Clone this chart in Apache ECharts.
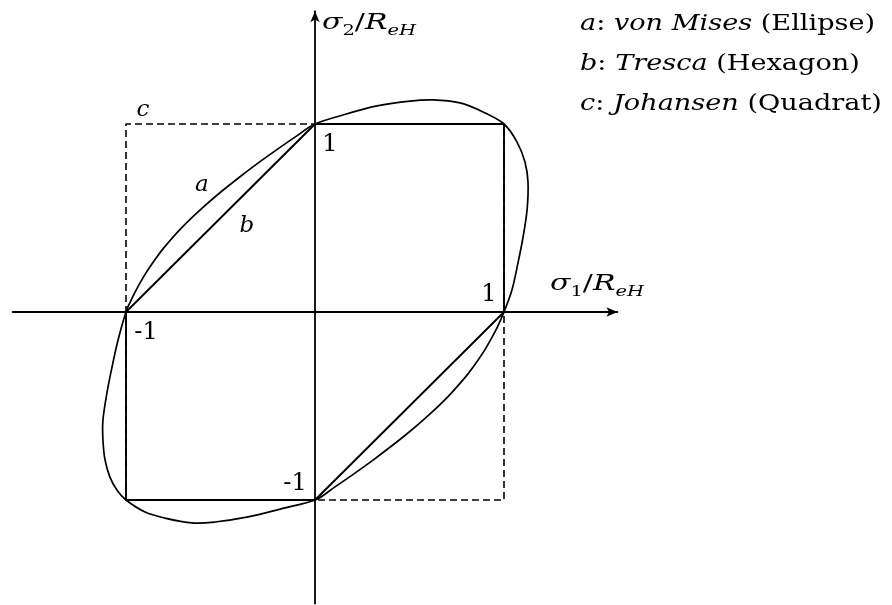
<!DOCTYPE html>
<html>
<head>
<meta charset="utf-8">
<script src="https://cdn.jsdelivr.net/npm/echarts@6/dist/echarts.min.js"></script>
<style>
  html, body { margin: 0; padding: 0; background: #fff; }
  #chart { width: 892px; height: 605px; }
</style>
</head>
<body>
<div id="chart"></div>
<script>
// Normalised principal stresses sigma1/ReH (x) and sigma2/ReH (y)

// a: von Mises yield locus, closed, counter-clockwise from (1, 0)
const vonMises = [
  [1.000, 0.000], [1.042, 0.117], [1.074, 0.261], [1.101, 0.399],
  [1.122, 0.543], [1.127, 0.690], [1.111, 0.798], [1.069, 0.904],
  [1.000, 1.000], [0.889, 1.064], [0.767, 1.112], [0.624, 1.128],
  [0.503, 1.122], [0.328, 1.096], [0.148, 1.048], [0.000, 1.000],
  [-0.100, 0.934], [-0.200, 0.865], [-0.300, 0.793], [-0.400, 0.717],
  [-0.500, 0.637], [-0.600, 0.550], [-0.700, 0.454], [-0.800, 0.341],
  [-0.850, 0.274], [-0.900, 0.199], [-0.950, 0.110], [-0.975, 0.058],
  [-1.000, 0.000], [-1.042, -0.149], [-1.074, -0.293], [-1.101, -0.431],
  [-1.122, -0.574], [-1.122, -0.681], [-1.111, -0.787], [-1.085, -0.878],
  [-1.048, -0.947], [-1.000, -1.000], [-0.899, -1.064], [-0.794, -1.096],
  [-0.651, -1.122], [-0.529, -1.117], [-0.354, -1.090], [-0.175, -1.046],
  [0.000, -1.000], [0.100, -0.934], [0.200, -0.865], [0.300, -0.793],
  [0.400, -0.717], [0.500, -0.637], [0.600, -0.550], [0.700, -0.454],
  [0.800, -0.341], [0.850, -0.274], [0.900, -0.199], [0.950, -0.110],
  [0.975, -0.058]
];

// b: Tresca hexagon
const tresca = [[0, 1], [1, 1], [1, 0], [0, -1], [-1, -1], [-1, 0], [0, 1]];

// c: Johansen square
const johansen = [[-1, -1], [-1, 1], [1, 1], [1, -1], [-1, -1]];

// Tick values marked on both axes
const tickValues = [1, -1];
const tickTexts = ['1', '-1'];

// Curve letters and where they sit
const curveLetters = ['a', 'b', 'c'];
const curveLetterAt = [[-0.598, 0.676], [-0.360, 0.457], [-0.910, 1.074]];

// Legend lines
const legendLetters = ['a', 'b', 'c'];
const legendNames = ['von Mises', 'Tresca', 'Johansen'];
const legendShapes = ['Ellipse', 'Hexagon', 'Quadrat'];

const xRange = [-1.6, 1.6];
const yRange = [-1.55, 1.6];

// Plot geometry: origin in pixels and pixels per unit
const W = 892, H = 605;
const origin = [315, 312];
const unit = [189, 188];

const serif = '"DejaVu Serif", "Liberation Serif", serif';
const ink = '#000';

const chart = echarts.init(document.getElementById('chart'), null, { renderer: 'canvas' });

const gridLeft = origin[0] + xRange[0] * unit[0];
const gridRight = W - (origin[0] + xRange[1] * unit[0]);
const gridTop = origin[1] - yRange[1] * unit[1];
const gridBottom = H - (origin[1] - yRange[0] * unit[1]);

const axisCommon = {
  type: 'value',
  axisLine: {
    show: true, onZero: true,
    symbol: ['none', 'arrow'], symbolSize: [7, 11],
    lineStyle: { color: ink, width: 1.8 }
  },
  axisTick: { show: false },
  axisLabel: { show: false },
  splitLine: { show: false }
};

// Closed smooth curve through the points (Catmull-Rom segments as cubic Beziers)
function closedCurvePath(pts) {
  const n = pts.length;
  let d = 'M' + pts[0][0] + ' ' + pts[0][1];
  for (let i = 0; i < n; i++) {
    const p0 = pts[(i - 1 + n) % n], p1 = pts[i], p2 = pts[(i + 1) % n], p3 = pts[(i + 2) % n];
    const c1 = [p1[0] + (p2[0] - p0[0]) / 6, p1[1] + (p2[1] - p0[1]) / 6];
    const c2 = [p2[0] - (p3[0] - p1[0]) / 6, p2[1] - (p3[1] - p1[1]) / 6];
    d += ' C' + c1[0] + ' ' + c1[1] + ' ' + c2[0] + ' ' + c2[1] + ' ' + p2[0] + ' ' + p2[1];
  }
  return d + ' Z';
}

// Tick label points: on the x axis at (v, 0), on the y axis at (0, v)
const tickPoints = [];
tickValues.forEach((v, i) => {
  tickPoints.push({
    value: [v, 0], name: tickTexts[i],
    label: { offset: v > 0 ? [-15, -17] : [20, 21] }
  });
  tickPoints.push({
    value: [0, v], name: tickTexts[i],
    label: { offset: v > 0 ? [15, 21] : [-20, -16] }
  });
});

const letterPoints = curveLetters.map((t, i) => ({ value: curveLetterAt[i], name: t }));

const mathRich = {
  i: { fontFamily: serif, fontStyle: 'italic', fontSize: 23, color: ink, lineHeight: 30, verticalAlign: 'middle' },
  r: { fontFamily: serif, fontSize: 23, color: ink, lineHeight: 30, verticalAlign: 'middle' },
  s: { fontFamily: serif, fontSize: 15, color: ink, lineHeight: 17, verticalAlign: 'bottom' },
  si: { fontFamily: serif, fontStyle: 'italic', fontSize: 15, color: ink, lineHeight: 17, verticalAlign: 'bottom' }
};

const legendGraphics = legendLetters.map((l, i) => ({
  type: 'text',
  left: 580,
  top: 13 + i * 40,
  scaleX: 1.18,
  style: {
    text: '{i|' + l + '}{r|: }{i|' + legendNames[i] + '}{r| (' + legendShapes[i] + ')}',
    rich: mathRich
  }
}));

const pointLabel = {
  show: true, position: 'inside', formatter: p => p.name,
  fontFamily: serif, fontSize: 24, color: ink,
  textBorderWidth: 0, textShadowBlur: 0
};

chart.setOption({
  animation: false,
  backgroundColor: '#fff',
  grid: { left: gridLeft, right: gridRight, top: gridTop, bottom: gridBottom, containLabel: false },
  xAxis: Object.assign({ min: xRange[0], max: xRange[1] }, axisCommon),
  yAxis: Object.assign({ min: yRange[0], max: yRange[1] }, axisCommon),
  series: [
    {
      name: 'Johansen', type: 'line', data: johansen, symbol: 'none', z: 2,
      lineStyle: { color: ink, width: 1.6, type: [7, 4] }
    },
    {
      name: 'Tresca', type: 'line', data: tresca, symbol: 'none', z: 3,
      lineStyle: { color: ink, width: 1.9 }
    },
    {
      name: 'von Mises', type: 'custom', z: 4,
      data: [0],
      renderItem: function (params, api) {
        const pts = vonMises.map(p => api.coord(p));
        return {
          type: 'path',
          shape: { pathData: closedCurvePath(pts) },
          style: { fill: 'none', stroke: ink, lineWidth: 1.7 }
        };
      }
    },
    {
      name: 'ticks', type: 'scatter', data: tickPoints, symbolSize: 0, z: 5,
      itemStyle: { color: ink, opacity: 1 },
      label: pointLabel
    },
    {
      name: 'letters', type: 'scatter', data: letterPoints, symbolSize: 0, z: 5,
      itemStyle: { color: ink, opacity: 1 },
      label: Object.assign({}, pointLabel, { fontStyle: 'italic', fontSize: 23 })
    }
  ],
  graphic: [
    {
      type: 'text', left: 322, top: 12, scaleX: 1.3,
      style: { text: '{i|σ}{s|2}{r|/}{i|R}{si|eH}', rich: mathRich }
    },
    {
      type: 'text', left: 550, top: 273, scaleX: 1.3,
      style: { text: '{i|σ}{s|1}{r|/}{i|R}{si|eH}', rich: mathRich }
    }
  ].concat(legendGraphics)
});
</script>
</body>
</html>
